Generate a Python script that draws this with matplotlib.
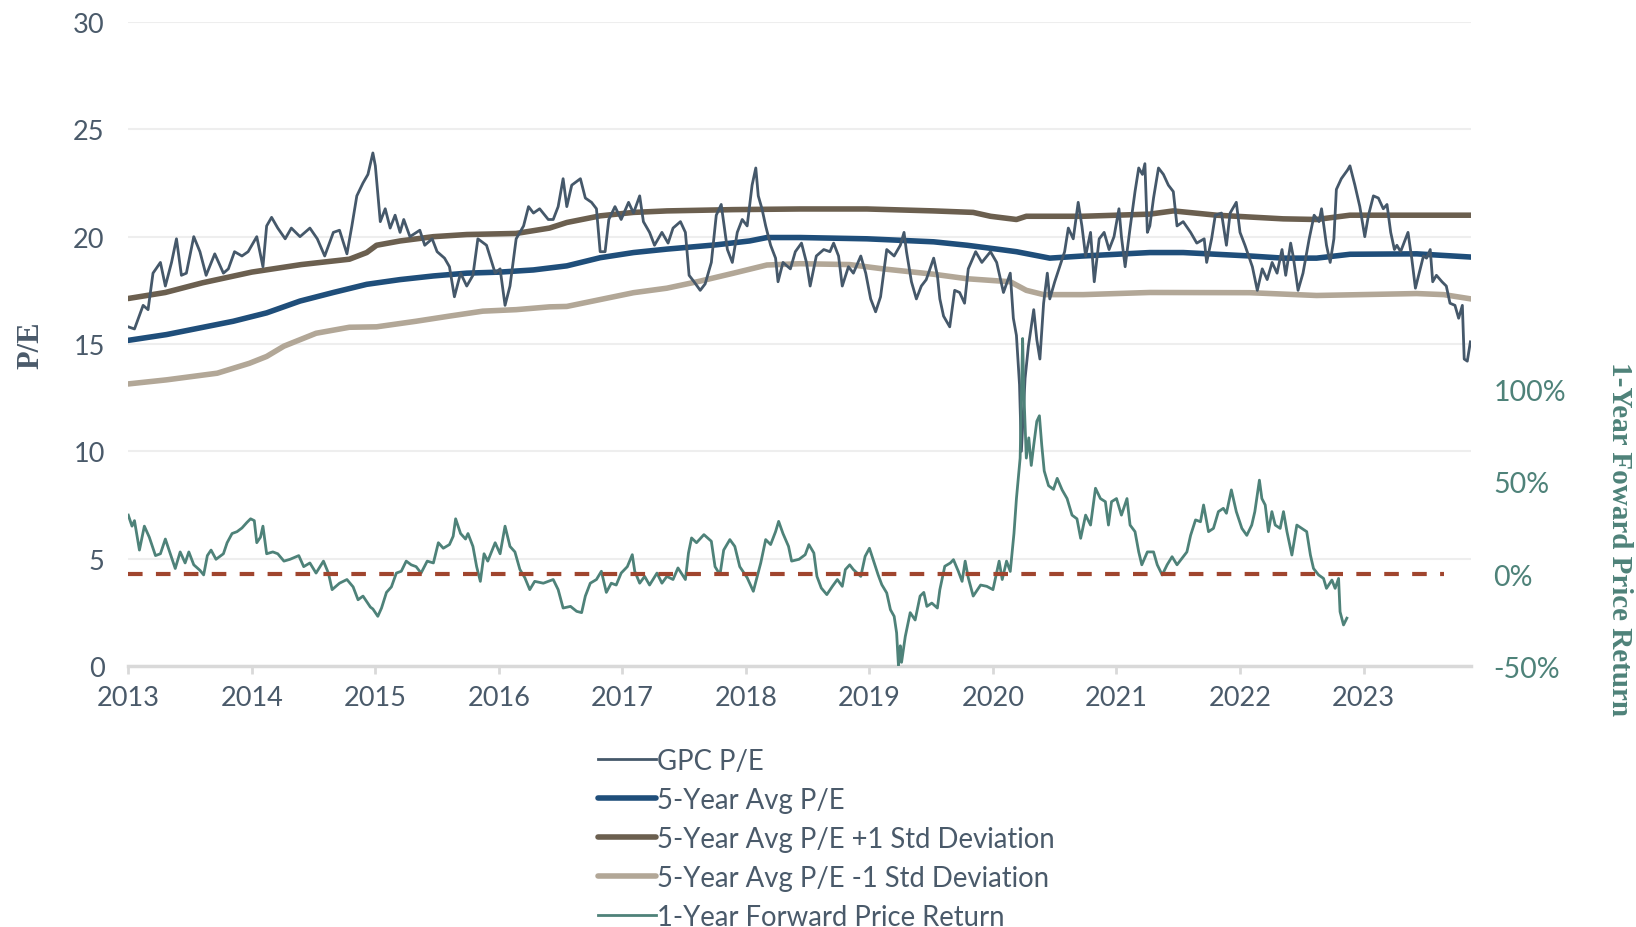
import matplotlib
matplotlib.use("Agg")
import matplotlib.pyplot as plt

# ---------------- data ----------------
pe_x = [2013.00, 2013.05, 2013.12, 2013.16, 2013.20, 2013.26, 2013.30, 2013.35, 2013.39, 2013.43,
        2013.47, 2013.53, 2013.58, 2013.63, 2013.70, 2013.77, 2013.81, 2013.86, 2013.92, 2013.97,
        2014.04, 2014.09, 2014.12, 2014.16, 2014.21, 2014.27, 2014.32, 2014.39, 2014.47, 2014.53,
        2014.59, 2014.66, 2014.71, 2014.77, 2014.81, 2014.85, 2014.90, 2014.94, 2014.98, 2015.00,
        2015.04, 2015.08, 2015.12, 2015.16, 2015.20, 2015.23, 2015.28, 2015.36, 2015.40, 2015.46,
        2015.50, 2015.56, 2015.60, 2015.64, 2015.69, 2015.74, 2015.79, 2015.83, 2015.90, 2015.97,
        2016.01, 2016.05, 2016.09, 2016.14, 2016.20, 2016.24, 2016.28, 2016.33, 2016.40, 2016.44,
        2016.48, 2016.52, 2016.55, 2016.59, 2016.66, 2016.70, 2016.75, 2016.79, 2016.82, 2016.86,
        2016.89, 2016.94, 2016.99, 2017.05, 2017.09, 2017.14, 2017.17, 2017.22, 2017.26, 2017.32,
        2017.37, 2017.41, 2017.47, 2017.51, 2017.54, 2017.58, 2017.63, 2017.67, 2017.72, 2017.76,
        2017.80, 2017.85, 2017.89, 2017.93, 2017.97, 2018.01, 2018.05, 2018.08, 2018.10, 2018.13,
        2018.16, 2018.20, 2018.24, 2018.26, 2018.30, 2018.36, 2018.40, 2018.45, 2018.49, 2018.52,
        2018.57, 2018.63, 2018.68, 2018.71, 2018.75, 2018.78, 2018.83, 2018.87, 2018.93, 2018.97,
        2019.01, 2019.05, 2019.09, 2019.14, 2019.20, 2019.25, 2019.28, 2019.30, 2019.34, 2019.38,
        2019.42, 2019.46, 2019.52, 2019.55, 2019.57, 2019.60, 2019.65, 2019.69, 2019.73, 2019.77,
        2019.80, 2019.86, 2019.91, 2019.98, 2020.03, 2020.085, 2020.14, 2020.165, 2020.19, 2020.215,
        2020.23, 2020.26, 2020.287, 2020.33, 2020.355, 2020.38, 2020.41, 2020.44, 2020.46, 2020.50,
        2020.54, 2020.58, 2020.61, 2020.65, 2020.69, 2020.72, 2020.75, 2020.79, 2020.82, 2020.86,
        2020.90, 2020.94, 2020.98, 2021.02, 2021.04, 2021.07, 2021.11, 2021.15, 2021.18, 2021.21,
        2021.23, 2021.25, 2021.27, 2021.30, 2021.34, 2021.38, 2021.42, 2021.46, 2021.49, 2021.54,
        2021.60, 2021.65, 2021.71, 2021.73, 2021.77, 2021.80, 2021.85, 2021.89, 2021.92, 2021.97,
        2022.00, 2022.04, 2022.10, 2022.14, 2022.18, 2022.22, 2022.26, 2022.30, 2022.34, 2022.37,
        2022.41, 2022.43, 2022.47, 2022.51, 2022.56, 2022.60, 2022.64, 2022.66, 2022.70, 2022.73,
        2022.76, 2022.78, 2022.82, 2022.87, 2022.89, 2022.93, 2022.97, 2023.01, 2023.04, 2023.08,
        2023.12, 2023.16, 2023.19, 2023.22, 2023.25, 2023.27, 2023.30, 2023.34, 2023.36, 2023.39,
        2023.42, 2023.45, 2023.485, 2023.51, 2023.54, 2023.56, 2023.59, 2023.635, 2023.67, 2023.70,
        2023.74, 2023.77, 2023.80, 2023.815, 2023.84, 2023.865]
pe_y = [15.8, 15.7, 16.8, 16.6, 18.3, 18.8, 17.7, 18.8, 19.9, 18.2,
        18.3, 20.0, 19.3, 18.2, 19.2, 18.3, 18.5, 19.3, 19.1, 19.3,
        20.0, 18.6, 20.5, 20.9, 20.4, 19.9, 20.4, 20.0, 20.4, 19.9,
        19.1, 20.2, 20.3, 19.2, 20.5, 21.9, 22.5, 22.9, 23.9, 23.3,
        20.7, 21.3, 20.4, 21.0, 20.2, 20.8, 20.0, 20.3, 19.6, 19.9,
        19.3, 19.0, 18.6, 17.2, 18.3, 17.7, 18.2, 19.9, 19.6, 18.3,
        18.5, 16.8, 17.7, 19.9, 20.5, 21.4, 21.1, 21.3, 20.8, 20.8,
        21.4, 22.7, 21.4, 22.4, 22.7, 21.8, 21.6, 21.3, 19.3, 19.3,
        20.8, 21.4, 20.8, 21.6, 21.1, 21.9, 20.7, 20.2, 19.6, 20.2,
        19.7, 20.4, 20.7, 20.2, 18.2, 17.9, 17.5, 17.8, 18.8, 21.0,
        21.5, 19.4, 18.8, 20.2, 20.8, 20.5, 22.4, 23.2, 21.9, 21.3,
        20.5, 19.6, 19.0, 17.9, 18.8, 18.5, 19.3, 19.7, 18.8, 17.7,
        19.1, 19.4, 19.3, 19.7, 19.1, 17.7, 18.6, 18.3, 19.1, 18.3,
        17.1, 16.5, 17.2, 19.4, 19.1, 19.6, 20.2, 19.3, 17.9, 17.1,
        17.7, 18.0, 19.0, 18.2, 17.1, 16.3, 15.8, 17.5, 17.4, 16.9,
        18.5, 19.3, 18.8, 19.3, 18.8, 17.4, 18.3, 16.2, 15.4, 13.1,
        10.0, 13.4, 14.9, 16.6, 15.2, 14.3, 16.9, 18.3, 17.1, 17.9,
        18.6, 19.3, 20.4, 19.9, 21.6, 20.5, 19.1, 20.2, 17.9, 19.9,
        20.2, 19.4, 20.0, 21.3, 20.0, 18.6, 20.4, 22.1, 23.2, 22.9,
        23.4, 20.2, 20.5, 21.8, 23.2, 22.9, 22.4, 22.1, 20.5, 20.7,
        20.2, 19.7, 19.9, 18.8, 19.9, 21.0, 21.1, 19.6, 21.1, 21.6,
        20.2, 19.6, 18.6, 17.5, 18.5, 18.0, 18.8, 18.3, 19.4, 18.2,
        19.7, 19.1, 17.5, 18.3, 19.9, 21.0, 20.7, 21.3, 19.6, 18.8,
        19.9, 22.2, 22.7, 23.1, 23.3, 22.4, 21.4, 20.0, 21.0, 21.9,
        21.8, 21.3, 21.5, 20.2, 19.4, 19.6, 19.3, 19.9, 20.2, 19.0,
        17.6, 18.3, 19.1, 19.0, 19.4, 17.9, 18.2, 17.9, 17.7, 16.9,
        16.8, 16.2, 16.8, 14.3, 14.2, 15.1]

avg_x = [2013.0, 2013.31, 2013.58, 2013.85, 2014.12, 2014.39, 2014.66, 2014.93, 2015.2, 2015.47,
         2015.74, 2016.01, 2016.28, 2016.55, 2016.82, 2017.09, 2017.36, 2017.76, 2018.03, 2018.17,
         2018.44, 2018.98, 2019.52, 2019.79, 2020.06, 2020.19, 2020.46, 2020.73, 2021.27, 2021.54,
         2022.08, 2022.35, 2022.62, 2022.89, 2023.43, 2023.87]
avg_y = [15.17, 15.44, 15.75, 16.06, 16.45, 17.0, 17.4, 17.78, 18.0, 18.17,
         18.3, 18.35, 18.45, 18.64, 19.02, 19.26, 19.42, 19.62, 19.8, 19.96,
         19.96, 19.9, 19.76, 19.6, 19.4, 19.3, 19.0, 19.1, 19.26, 19.26,
         19.1, 19.0, 19.0, 19.18, 19.2, 19.05]

plus_x = [2013.0, 2013.3, 2013.6, 2014.0, 2014.4, 2014.79, 2014.93, 2015.01, 2015.2, 2015.47,
          2015.74, 2016.14, 2016.41, 2016.55, 2016.82, 2017.09, 2017.36, 2017.9, 2018.44, 2018.98,
          2019.52, 2019.84, 2019.98, 2020.19, 2020.27, 2020.73, 2021.27, 2021.46, 2021.81, 2022.35,
          2022.62, 2022.89, 2023.43, 2023.87]
plus_y = [17.12, 17.4, 17.85, 18.35, 18.7, 18.95, 19.26, 19.6, 19.8, 20.0,
          20.1, 20.15, 20.4, 20.66, 20.97, 21.13, 21.2, 21.26, 21.29, 21.29,
          21.2, 21.13, 20.95, 20.8, 20.95, 20.95, 21.05, 21.2, 21.0, 20.83,
          20.8, 21.0, 21.0, 21.0]

minus_x = [2013.0, 2013.31, 2013.72, 2013.98, 2014.12, 2014.26, 2014.52, 2014.79, 2015.01, 2015.33,
           2015.6, 2015.87, 2016.14, 2016.41, 2016.55, 2017.09, 2017.36, 2017.63, 2017.9, 2018.17,
           2018.44, 2018.84, 2019.11, 2019.52, 2019.79, 2020.14, 2020.27, 2020.41, 2020.73, 2021.27,
           2022.08, 2022.62, 2023.43, 2023.65, 2023.87]
minus_y = [13.14, 13.33, 13.64, 14.1, 14.42, 14.9, 15.5, 15.78, 15.8, 16.06,
           16.3, 16.53, 16.6, 16.73, 16.75, 17.39, 17.6, 17.93, 18.3, 18.68,
           18.74, 18.7, 18.5, 18.25, 18.04, 17.9, 17.5, 17.3, 17.3, 17.4,
           17.39, 17.26, 17.35, 17.3, 17.1]

ret_x = [2013.00, 2013.03, 2013.05, 2013.09, 2013.13, 2013.17, 2013.22, 2013.26, 2013.30, 2013.34,
         2013.38, 2013.42, 2013.46, 2013.49, 2013.53, 2013.58, 2013.61, 2013.64, 2013.67, 2013.71,
         2013.77, 2013.80, 2013.84, 2013.88, 2013.92, 2013.96, 2013.99, 2014.02, 2014.04, 2014.07,
         2014.09, 2014.12, 2014.17, 2014.21, 2014.26, 2014.31, 2014.38, 2014.42, 2014.47, 2014.52,
         2014.58, 2014.62, 2014.65, 2014.71, 2014.77, 2014.82, 2014.86, 2014.90, 2014.96, 2014.98,
         2015.02, 2015.05, 2015.09, 2015.13, 2015.17, 2015.21, 2015.25, 2015.29, 2015.33, 2015.37,
         2015.42, 2015.47, 2015.51, 2015.55, 2015.60, 2015.63, 2015.65, 2015.69, 2015.73, 2015.75,
         2015.79, 2015.82, 2015.85, 2015.88, 2015.91, 2015.97, 2016.01, 2016.05, 2016.09, 2016.13,
         2016.17, 2016.21, 2016.25, 2016.29, 2016.36, 2016.44, 2016.48, 2016.52, 2016.58, 2016.63,
         2016.67, 2016.70, 2016.74, 2016.79, 2016.83, 2016.87, 2016.91, 2016.95, 2016.99, 2017.04,
         2017.08, 2017.10, 2017.14, 2017.18, 2017.22, 2017.28, 2017.32, 2017.36, 2017.41, 2017.45,
         2017.51, 2017.535, 2017.56, 2017.60, 2017.66, 2017.72, 2017.75, 2017.79, 2017.82, 2017.87,
         2017.91, 2017.95, 2018.01, 2018.06, 2018.12, 2018.16, 2018.20, 2018.24, 2018.265, 2018.30,
         2018.345, 2018.37, 2018.43, 2018.48, 2018.51, 2018.55, 2018.575, 2018.61, 2018.655, 2018.70,
         2018.74, 2018.78, 2018.805, 2018.84, 2018.87, 2018.93, 2018.965, 2019.00, 2019.03, 2019.07,
         2019.10, 2019.14, 2019.17, 2019.20, 2019.22, 2019.235, 2019.25, 2019.26, 2019.29, 2019.33,
         2019.37, 2019.41, 2019.44, 2019.465, 2019.505, 2019.55, 2019.57, 2019.61, 2019.655, 2019.68,
         2019.72, 2019.75, 2019.775, 2019.80, 2019.84, 2019.90, 2019.95, 2020.00, 2020.05, 2020.075,
         2020.11, 2020.14, 2020.17, 2020.19, 2020.22, 2020.24, 2020.25, 2020.27, 2020.29, 2020.31,
         2020.33, 2020.355, 2020.376, 2020.395, 2020.415, 2020.45, 2020.49, 2020.52, 2020.56, 2020.60,
         2020.64, 2020.68, 2020.71, 2020.75, 2020.79, 2020.83, 2020.87, 2020.91, 2020.935, 2020.96,
         2021.00, 2021.04, 2021.085, 2021.11, 2021.15, 2021.18, 2021.205, 2021.25, 2021.30, 2021.33,
         2021.37, 2021.41, 2021.45, 2021.49, 2021.53, 2021.57, 2021.60, 2021.64, 2021.68, 2021.705,
         2021.745, 2021.785, 2021.825, 2021.865, 2021.89, 2021.93, 2021.97, 2022.015, 2022.055, 2022.095,
         2022.12, 2022.157, 2022.177, 2022.204, 2022.23, 2022.258, 2022.285, 2022.325, 2022.352, 2022.38,
         2022.42, 2022.46, 2022.50, 2022.54, 2022.57, 2022.595, 2022.636, 2022.676, 2022.70, 2022.744,
         2022.77, 2022.798, 2022.81, 2022.838, 2022.865]
ret_y = [32, 26, 29, 13, 26, 20, 10, 11, 19, 11,
         3, 12, 6, 12, 5, 2, -0.5, 10, 13, 8,
         11, 17, 22, 23, 25, 28, 30, 29, 17, 20,
         26, 11, 12, 11, 7, 8, 10, 4, 6, 0.5,
         7, 0.5, -8.5, -5, -3, -7, -14, -12, -18, -19,
         -23, -18.5, -10, -7, 0.5, 1.5, 7, 5, 4, 0.5,
         7, 6, 17, 14, 16, 20.5, 30, 22, 19, 22,
         15, 4, -4, 11, 7, 17, 11, 26, 15, 12,
         2.5, -2, -8.5, -4, -5, -3, -8.5, -18.5, -17.6, -20.3,
         -21, -12, -5, -3, 1.5, -10, -5, -6, 0.5, 4,
         10.5, 1.5, -5, -1.3, -6, 0.5, -5, -1.3, -3, 3.3,
         -3, 11.4, 19.6, 17, 21.4, 17.8, 4, -0.4, 13, 18.7,
         15, 4, -2, -9.4, 6, 18.7, 16, 23, 28.6, 22,
         15, 7, 8, 10.5, 16, 11.4, -1.3, -7.6, -11.2, -6.7,
         -3, -6.7, 2.4, 5, 2.4, -1.3, 9.6, 14, 7.8, -0.4,
         -5.8, -10.3, -19.4, -23, -32, -50, -39, -48, -34, -21,
         -25, -12, -10, -17.6, -15.8, -18.5, -8.5, 4.2, 6, 7.8,
         1.4, -4, 7, -2, -12, -6, -6.7, -8.5, 7, -3,
         7, 1.4, 22, 41, 63, 128, 99, 63, 74, 59,
         70, 83, 86, 70, 56, 48, 46, 52, 45.7, 41,
         32, 30, 19.4, 32, 26.6, 46.6, 41, 39.3, 26.6, 39.3,
         41, 32, 41, 26.6, 23, 12, 5, 12, 12, 5,
         -0.5, 5, 9.4, 5, 8.5, 12, 21, 29.4, 28.4, 37.5,
         23, 24.8, 33.9, 35.7, 33, 45.7, 33.9, 24.8, 21, 26.6,
         33.9, 51, 41, 37.5, 23, 33.9, 26.6, 24.8, 33.9, 23,
         10.3, 26.6, 24.8, 23, 10.3, 3, -0.5, -2.4, -7.8, -3.3,
         -7.8, -2.4, -20.5, -27.7, -24]

zero_x = [2013.0, 2023.65]
zero_y = [0, 0]

year_ticks = list(range(2013, 2024))
year_labels = [str(y) for y in year_ticks]
pe_ticks = [0, 5, 10, 15, 20, 25, 30]
ret_ticks = [-50, 0, 50, 100]
ret_labels = ["-50%", "0%", "50%", "100%"]

labels = ["GPC P/E", "5-Year Avg P/E", "5-Year Avg P/E +1 Std Deviation",
          "5-Year Avg P/E -1 Std Deviation", "1-Year Forward Price Return"]

# ---------------- style ----------------
TEXT = "#4a5a6a"
C_PE = "#45586a"
C_AVG = "#1f4e7a"
C_PLUS = "#6b5f4f"
C_MINUS = "#b2a797"
C_RET = "#4e8279"
C_ZERO = "#a0452e"
SANS = "Lato"
SERIF = "Liberation Serif"

W, H = 1636, 928
fig = plt.figure(figsize=(W / 100, H / 100), dpi=100)
x0, x1, yb, yt = 128.3, 1471, 667, 23
ax = fig.add_axes([x0 / W, 1 - yb / H, (x1 - x0) / W, (yb - yt) / H])
ax2 = ax.twinx()

l_minus, = ax.plot(minus_x, minus_y, color=C_MINUS, lw=4.0, solid_capstyle="round", zorder=3)
l_plus, = ax.plot(plus_x, plus_y, color=C_PLUS, lw=4.0, solid_capstyle="round", zorder=3)
l_avg, = ax.plot(avg_x, avg_y, color=C_AVG, lw=4.0, solid_capstyle="round", zorder=3)
l_pe, = ax.plot(pe_x, pe_y, color=C_PE, lw=2.0, zorder=4)

l_ret, = ax2.plot(ret_x, ret_y, color=C_RET, lw=2.0, zorder=3)
ax2.plot(zero_x, zero_y, color=C_ZERO, lw=3.0, linestyle=(0, (3.5, 3.2)), zorder=4)

ax.set_xlim(2013, 2023.87)
ax.set_ylim(0, 30)
ax2.set_ylim(-50, 300)

ax.set_yticks(pe_ticks)
ax.set_yticklabels([str(t) for t in pe_ticks])
ax.set_xticks(year_ticks)
ax.set_xticklabels(year_labels)
ax2.set_yticks(ret_ticks)
ax2.set_yticklabels(ret_labels)

ax.grid(axis="y", color="#eeeeee", lw=1.5)
ax.grid(axis="x", visible=False)
ax.set_axisbelow(True)
for s in ["top", "right", "left"]:
    ax.spines[s].set_visible(False)
for s in ["top", "right", "left", "bottom"]:
    ax2.spines[s].set_visible(False)
ax.spines["bottom"].set_color("#d9d9d9")
ax.spines["bottom"].set_linewidth(2.5)

ax.tick_params(axis="y", length=0, pad=17, labelsize=19.5, labelcolor=TEXT)
ax.tick_params(axis="x", length=6, width=2, color="#d9d9d9", pad=8, labelsize=19.5, labelcolor=TEXT)
ax2.tick_params(axis="y", length=0, pad=16, labelsize=20.5, labelcolor=C_RET)
for lab in ax.get_xticklabels() + ax.get_yticklabels() + ax2.get_yticklabels():
    lab.set_fontfamily(SANS)

fig.text(31 / W, 1 - 345 / H, "P/E", rotation=90, ha="center", va="center",
         fontfamily=SERIF, fontweight="bold", fontsize=22, color=TEXT)
fig.text(1619 / W, 1 - 539 / H, "1-Year Foward Price Return", rotation=270, ha="center", va="center",
         fontfamily=SERIF, fontweight="bold", fontsize=21, color=C_RET)

leg = fig.legend([l_pe, l_avg, l_plus, l_minus, l_ret], labels,
                 loc="upper left", bbox_to_anchor=(598 / W, 1 - 749 / H),
                 frameon=False, prop={"family": SANS, "size": 19.8},
                 handlelength=2.1, handletextpad=0.05, labelspacing=0.47,
                 borderpad=0, borderaxespad=0, labelcolor=TEXT)

fig.savefig("out.png", dpi=100, facecolor="white")
